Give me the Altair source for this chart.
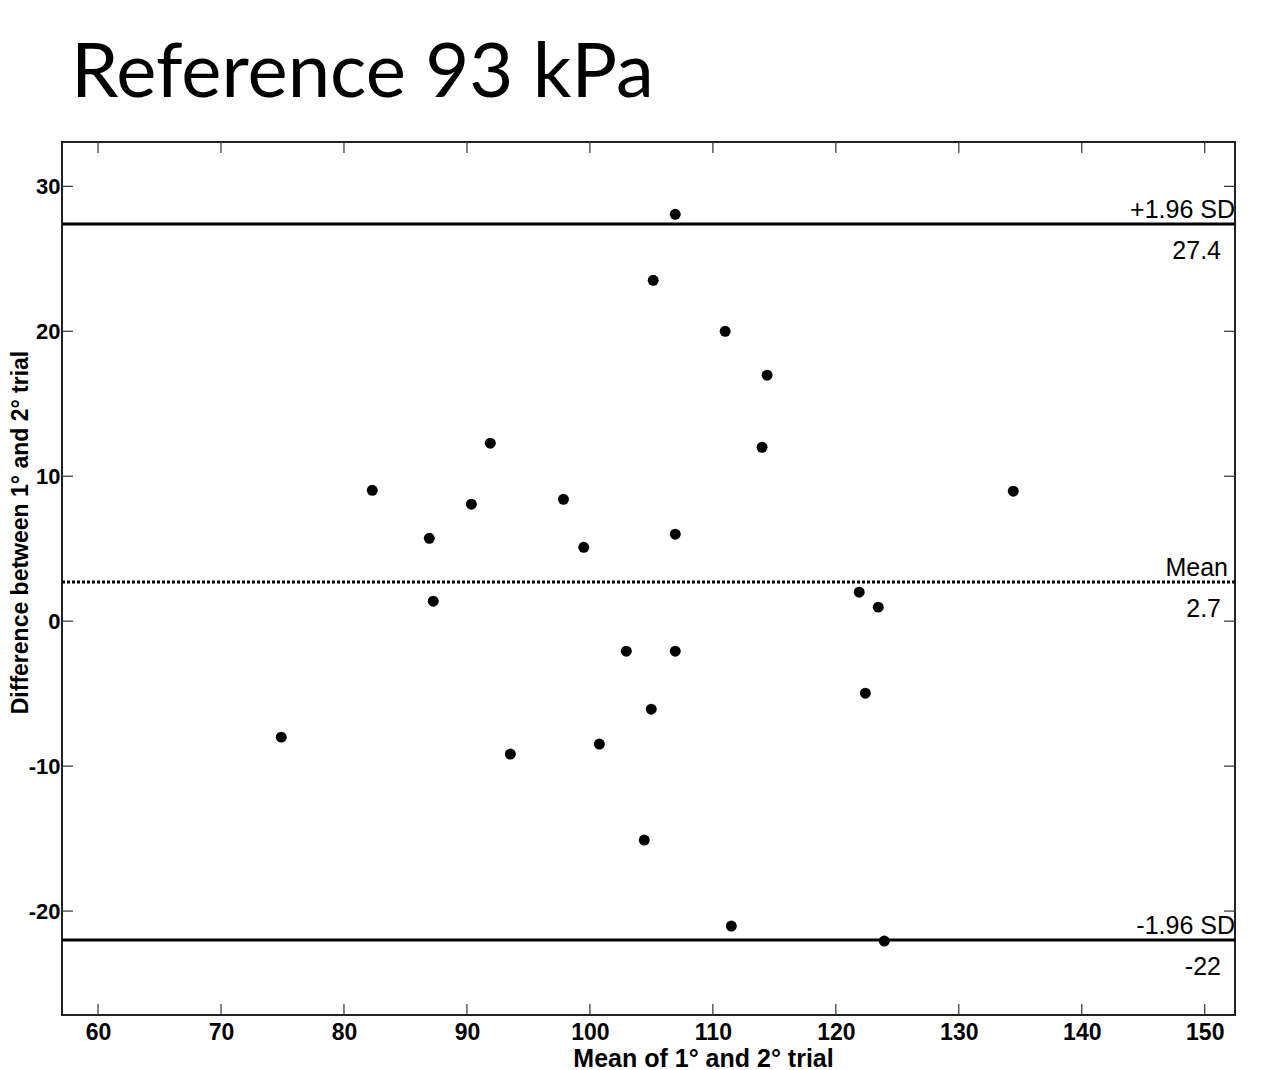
import altair as alt
import pandas as pd

# ---- data ----
title_text = ["Reference 93 kPa"]

mean_x = [106.94, 105.15, 111.0, 114.41, 114.0, 91.9, 82.3, 134.43, 90.36, 97.85,
          86.94, 99.5, 106.94, 87.26, 121.9, 123.45, 102.96, 106.94, 122.4, 104.99,
          74.9, 100.77, 93.53, 104.42, 111.5, 123.94]
diff_y = [28.07, 23.52, 20.0, 16.97, 12.0, 12.28, 9.03, 8.97, 8.07, 8.41,
          5.72, 5.1, 6.0, 1.38, 2.0, 0.97, -2.07, -2.07, -4.97, -6.07,
          -8.0, -8.48, -9.17, -15.1, -21.03, -22.07]

line_names = ["+1.96 SD", "Mean", "-1.96 SD"]
line_values = [27.4, 2.7, -22.0]
line_value_labels = ["27.4", "2.7", "-22"]

x_ticks = [60, 70, 80, 90, 100, 110, 120, 130, 140, 150]
y_ticks = [-20, -10, 0, 10, 20, 30]

X_DOMAIN = [57.07, 152.46]
Y_DOMAIN = [-27.17, 33.06]

W, H = 1173, 873
TICK = 11
LABEL_FONT = "Liberation Sans"

pts = pd.DataFrame({"x": mean_x, "y": diff_y})
lines = pd.DataFrame({"name": line_names, "value": line_values, "vlabel": line_value_labels})
xt = pd.DataFrame({"t": x_ticks})
yt = pd.DataFrame({"t": y_ticks})
tt = pd.DataFrame({"title": title_text})

xscale = alt.Scale(domain=X_DOMAIN, nice=False, zero=False)
yscale = alt.Scale(domain=Y_DOMAIN, nice=False, zero=False)

points = alt.Chart(pts).mark_point(filled=True, color="black", size=120, opacity=1).encode(
    x=alt.X("x:Q", scale=xscale,
            axis=alt.Axis(title="Mean of 1° and 2° trial", values=x_ticks, ticks=False,
                          domain=False, grid=False, labelFont=LABEL_FONT, labelFontWeight="bold",
                          labelFontSize=23, labelColor="black", labelPadding=6,
                          titleFont=LABEL_FONT, titleFontWeight="bold", titleFontSize=25,
                          titleColor="black", titleX=641, titleY=43, titleBaseline="middle",
                          titleAlign="center")),
    y=alt.Y("y:Q", scale=yscale,
            axis=alt.Axis(title="Difference between 1° and 2° trial", values=y_ticks, ticks=False,
                          domain=False, grid=False, labelFont=LABEL_FONT, labelFontWeight="bold",
                          labelFontSize=22, labelColor="black", labelPadding=2,
                          labelExpr="replace(datum.label, '\u2212', '-')",
                          titleFont=LABEL_FONT, titleFontWeight="bold", titleFontSize=23,
                          titleColor="black", titleX=-42, titleY=390, titleBaseline="middle",
                          titleAlign="center", titleAngle=270)),
)

sd_lines = alt.Chart(lines).transform_filter(alt.datum.name != "Mean").mark_rule(
    color="black", strokeWidth=3).encode(y=alt.Y("value:Q", scale=yscale))

mean_line = alt.Chart(lines).transform_filter(alt.datum.name == "Mean").mark_rule(
    color="black", strokeWidth=3, strokeDash=[3, 2]).encode(y=alt.Y("value:Q", scale=yscale))

sd_text = alt.Chart(lines).transform_filter(alt.datum.name != "Mean").mark_text(
    font=LABEL_FONT, fontSize=25, align="right", baseline="alphabetic", color="black", dy=-6).encode(
    y=alt.Y("value:Q", scale=yscale),
    x=alt.value(W),
    text="name:N",
)

mean_text = alt.Chart(lines).transform_filter(alt.datum.name == "Mean").mark_text(
    font=LABEL_FONT, fontSize=25, align="right", baseline="alphabetic", color="black", dy=-6).encode(
    y=alt.Y("value:Q", scale=yscale),
    x=alt.value(W - 7),
    text="name:N",
)

value_text = alt.Chart(lines).mark_text(
    font=LABEL_FONT, fontSize=25, align="right", baseline="middle", color="black", dy=27).encode(
    y=alt.Y("value:Q", scale=yscale),
    x=alt.value(W - 14),
    text="vlabel:N",
)

title_mark = alt.Chart(tt).mark_text(
    font="Lato", fontSize=76, align="left", baseline="alphabetic", color="black").encode(
    x=alt.value(9), y=alt.value(-45), text="title:N")

xt_bottom = alt.Chart(xt).mark_rule(color="#333", strokeWidth=1.2).encode(
    x=alt.X("t:Q", scale=xscale), y=alt.value(H), y2=alt.value(H - TICK))
xt_top = alt.Chart(xt).mark_rule(color="#333", strokeWidth=1.2).encode(
    x=alt.X("t:Q", scale=xscale), y=alt.value(0), y2=alt.value(TICK))
yt_left = alt.Chart(yt).mark_rule(color="#333", strokeWidth=1.2).encode(
    y=alt.Y("t:Q", scale=yscale), x=alt.value(0), x2=alt.value(TICK))
yt_right = alt.Chart(yt).mark_rule(color="#333", strokeWidth=1.2).encode(
    y=alt.Y("t:Q", scale=yscale), x=alt.value(W - TICK), x2=alt.value(W))

chart = alt.layer(
    xt_bottom, xt_top, yt_left, yt_right,
    sd_lines, mean_line, sd_text, mean_text, value_text, points, title_mark,
).properties(
    width=W, height=H,
    autosize=alt.AutoSizeParams(type="none"),
    padding={"left": 54, "top": 134, "right": 42, "bottom": 62},
).configure_view(stroke="#222", strokeWidth=2)

chart.save("out.html", embed_options={"renderer": "svg", "actions": False})
